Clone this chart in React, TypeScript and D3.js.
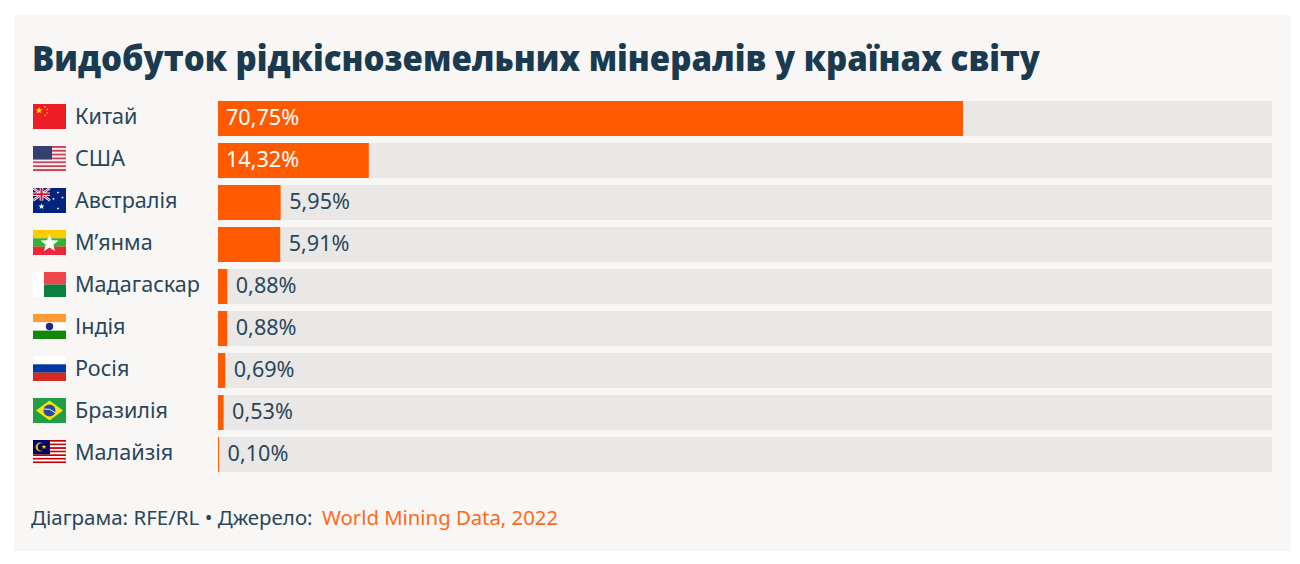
import React from "react";
import * as d3 from "d3";

const countries = ["Китай", "США", "Австралія", "М’янма", "Мадагаскар", "Індія", "Росія", "Бразилія", "Малайзія"];
const flagCodes = ["cn", "us", "au", "mm", "mg", "in", "ru", "br", "my"];
const shares = [70.75, 14.32, 5.95, 5.91, 0.88, 0.88, 0.69, 0.53, 0.1];
const shareLabels = ["70,75%", "14,32%", "5,95%", "5,91%", "0,88%", "0,88%", "0,69%", "0,53%", "0,10%"];
const insideLabels = [true, true, false, false, false, false, false, false, false];
const titleText = "Видобуток рідкісноземельних мінералів у країнах світу";
const creditText = "Діаграма: RFE/RL • Джерело: ";
const sourceText = "World Mining Data, 2022";

const W = 1300, H = 564;
const x = d3.scaleLinear().domain([0, 100]).range([218, 1271]);
const y = d3.scaleBand<number>().domain(d3.range(countries.length)).range([101, 101 + 42 * 9 - 7]).paddingInner(7 / 42).paddingOuter(0);
const ink = "#2a4659";
const orange = "#ff5a00";
const sans = "'Open Sans', 'Noto Sans', sans-serif";
const body = "'Noto Sans', 'Open Sans', sans-serif";

function star(cx: number, cy: number, r: number, fill: string) {
  const pts = d3.range(10).map((i) => {
    const a = -Math.PI / 2 + (i * Math.PI) / 5;
    const rr = i % 2 ? r * 0.42 : r;
    return `${cx + rr * Math.cos(a)},${cy + rr * Math.sin(a)}`;
  });
  return <polygon points={pts.join(" ")} fill={fill} />;
}

function stripes(n: number, w: number, h: number, a: string, b: string) {
  return d3.range(n).map((i) => (
    <rect key={i} x={0} y={(i * h) / n} width={w} height={h / n + 0.1} fill={i % 2 ? b : a} />
  ));
}

function Flag({ code }: { code: string }) {
  const w = 33, h = 25;
  switch (code) {
    case "cn":
      return (<g><rect width={w} height={h} fill="#ee1c25" />{star(6, 6.5, 3.6, "#ffde00")}{star(12, 3, 1.2, "#ffde00")}{star(14.3, 5.5, 1.2, "#ffde00")}{star(14.3, 9, 1.2, "#ffde00")}{star(12, 11.5, 1.2, "#ffde00")}</g>);
    case "us":
      return (<g>{stripes(13, w, h, "#c4465a", "#f4ecec")}<rect width={19} height={13.5} fill="#34406f" /></g>);
    case "au":
      return (<g><rect width={w} height={h} fill="#00247d" /><path d="M0 0L17 12.5M17 0L0 12.5" stroke="#fff" strokeWidth={2.4} /><path d="M0 0L17 12.5M17 0L0 12.5" stroke="#cf142b" strokeWidth={0.9} /><path d="M8.5 0V12.5M0 6.25H17" stroke="#fff" strokeWidth={3.6} /><path d="M8.5 0V12.5M0 6.25H17" stroke="#cf142b" strokeWidth={2} />{star(8.5, 18.5, 3.2, "#fff")}{star(25, 4.5, 1.4, "#fff")}{star(25, 20.5, 1.4, "#fff")}{star(20.5, 11, 1.4, "#fff")}{star(29.5, 9.5, 1.4, "#fff")}</g>);
    case "mm":
      return (<g><rect width={w} height={8.4} fill="#fecb00" /><rect y={8.3} width={w} height={8.4} fill="#34b233" /><rect y={16.6} width={w} height={8.4} fill="#ea2839" />{star(16.5, 13.5, 9.5, "#fff")}</g>);
    case "mg":
      return (<g><rect width={11} height={h} fill="#fff" /><rect x={11} width={22} height={12.5} fill="#f0454a" /><rect x={11} y={12.5} width={22} height={12.5} fill="#0b7f3f" /></g>);
    case "in":
      return (<g><rect width={w} height={8.4} fill="#ff9933" /><rect y={8.3} width={w} height={8.4} fill="#fff" /><rect y={16.6} width={w} height={8.4} fill="#138808" /><circle cx={16.5} cy={12.5} r={3.7} fill="#1a2a80" /></g>);
    case "ru":
      return (<g><rect width={w} height={8.4} fill="#fff" /><rect y={8.3} width={w} height={8.4} fill="#0039a6" /><rect y={16.6} width={w} height={8.4} fill="#d52b1e" /></g>);
    case "br":
      return (<g><rect width={w} height={h} fill="#229e45" /><polygon points="16.5,2.5 30,12.5 16.5,22.5 3,12.5" fill="#f8e509" /><circle cx={16.5} cy={12.5} r={6} fill="#2b49a3" /><path d="M11 11Q17 10 22 14.5" stroke="#fff" strokeWidth={0.9} fill="none" /></g>);
    case "my":
      return (<g>{stripes(14, w, h, "#cc0001", "#fff")}<rect width={17} height={14.3} fill="#010066" /><circle cx={7} cy={7} r={4.4} fill="#ffcc00" /><circle cx={8.4} cy={7} r={3.7} fill="#010066" />{star(11, 7, 2.6, "#ffcc00")}</g>);
    default:
      return null;
  }
}

export default function App() {
  return (
    <svg width={W} height={H} viewBox={`0 0 ${W} ${H}`} style={{ position: "absolute", left: 0, top: 0, background: "#fff" }}>
      <rect x={14} y={15} width={1277} height={536} fill="#f8f7f6" />
      <text x={32} y={71} fontFamily={sans} fontWeight={800} fontSize={35.5} fill="#1a3a50" textLength={1008} lengthAdjust="spacingAndGlyphs">{titleText}</text>
      {countries.map((c, i) => {
        const top = y(i)!;
        const bh = y.bandwidth();
        const inside = insideLabels[i];
        return (
          <g key={c}>
            <rect x={218} y={top} width={1054} height={bh} fill="#e9e8e7" />
            <rect x={x(0)} y={top} width={x(shares[i]) - x(0)} height={bh} fill={orange} />
            <g transform={`translate(33,${top + 3})`}>
              <Flag code={flagCodes[i]} />
            </g>
            <text x={75} y={top + 23} fontFamily={body} fontSize={21.6} fill={ink}>{c}</text>
            <text x={inside ? x(0) + 8 : x(shares[i]) + 8.5} y={top + 23.8} fontFamily={body} fontSize={21.6} fill={inside ? "#fff" : ink}>{shareLabels[i]}</text>
          </g>
        );
      })}
      <text x={31} y={525} fontFamily={body} fontSize={20.5} fill={ink}>
        {creditText}
        <tspan x={322} fill="#ff6a1a" textLength={236} lengthAdjust="spacingAndGlyphs">{sourceText}</tspan>
      </text>
    </svg>
  );
}
